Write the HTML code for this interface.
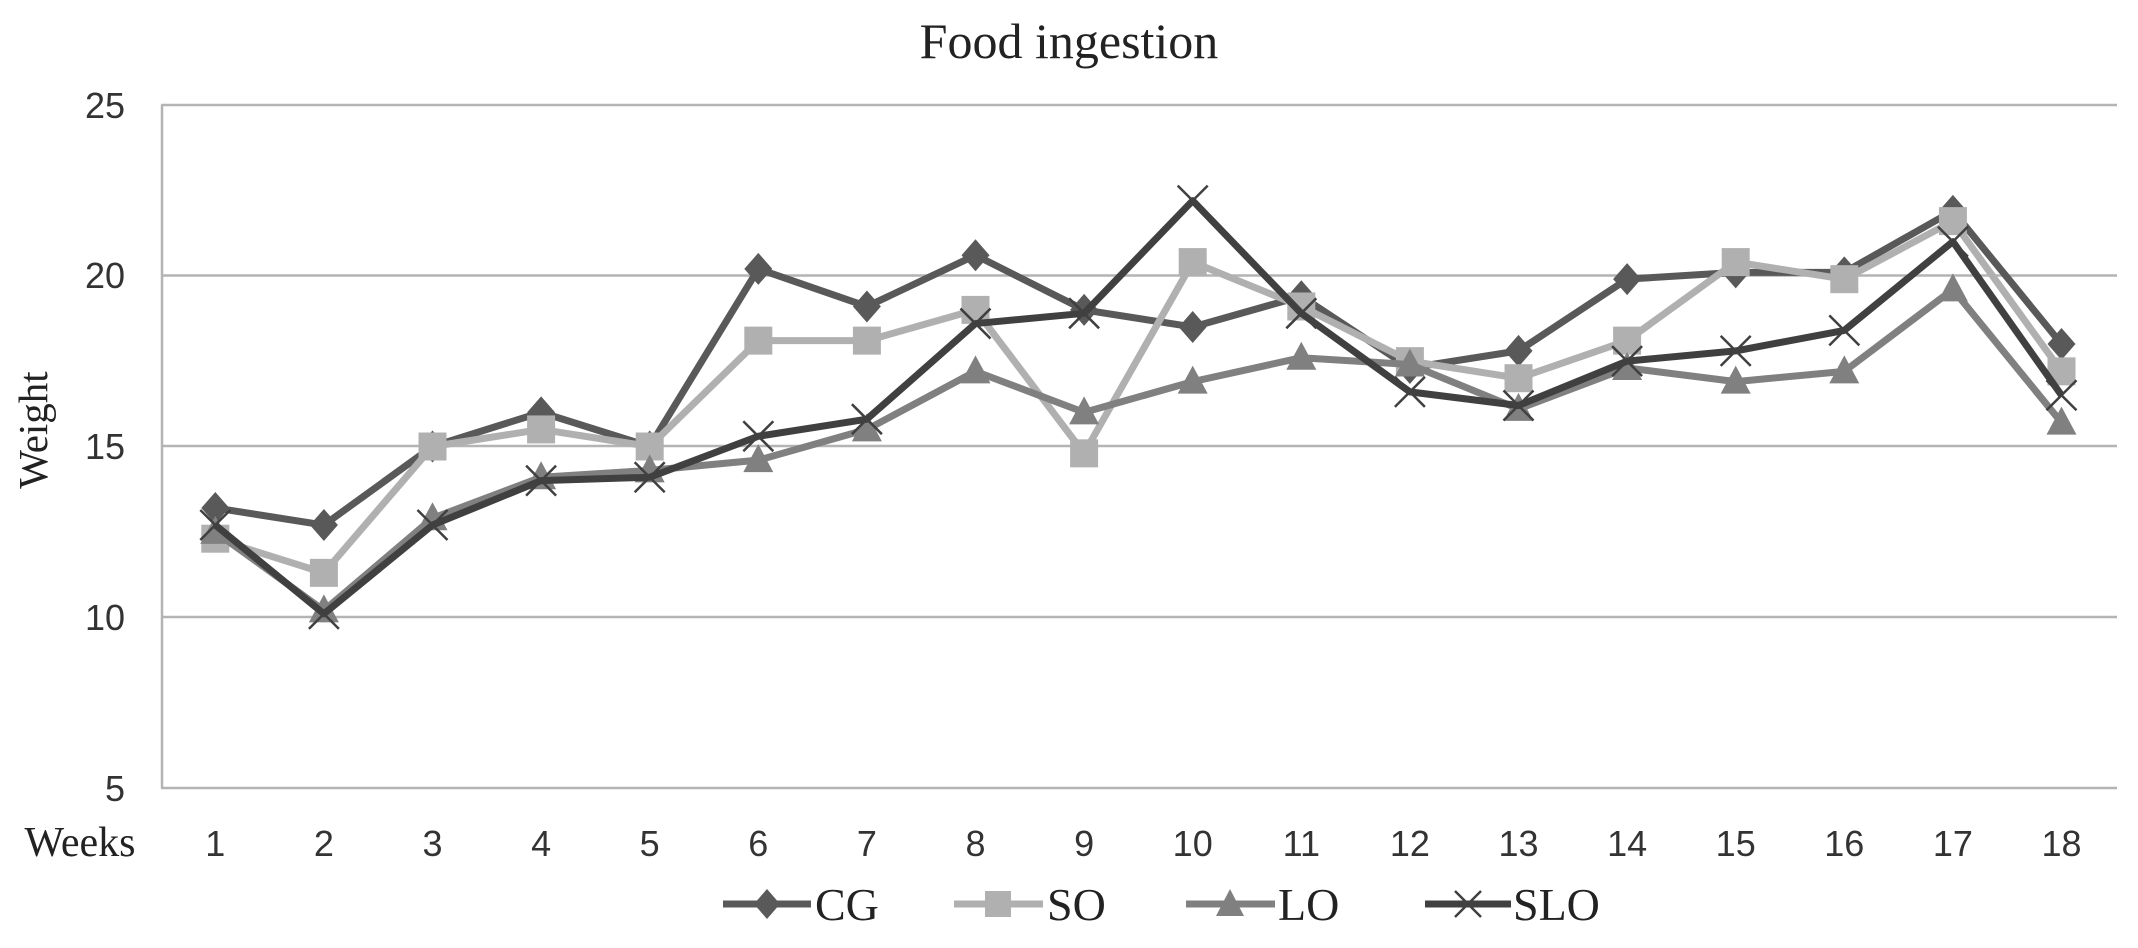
<!DOCTYPE html>
<html><head><meta charset="utf-8"><style>html,body{margin:0;padding:0;background:#fff}svg{display:block}</style></head>
<body>
<svg width="2138" height="948" viewBox="0 0 2138 948" xmlns="http://www.w3.org/2000/svg">
<rect width="2138" height="948" fill="#fff"/>
<text x="1069" y="58" font-family="Liberation Serif, serif" font-size="50" text-anchor="middle" fill="#222">Food ingestion</text>
<g stroke="#b4b4b4" stroke-width="2.5">
<line x1="161" y1="105" x2="2117" y2="105"/>
<line x1="161" y1="275.5" x2="2117" y2="275.5"/>
<line x1="161" y1="446" x2="2117" y2="446"/>
<line x1="161" y1="617" x2="2117" y2="617"/>
<line x1="161" y1="788" x2="2117" y2="788"/>
<line x1="162" y1="105" x2="162" y2="788"/>
</g>
<g font-family="Liberation Sans, sans-serif" font-size="36" fill="#333" text-anchor="end">
<text x="125" y="118">25</text><text x="125" y="288">20</text><text x="125" y="459">15</text><text x="125" y="630">10</text><text x="125" y="801">5</text>
</g>
<text transform="translate(47,430) rotate(-90)" font-family="Liberation Serif, serif" font-size="41" text-anchor="middle" fill="#222">Weight</text>
<text x="80" y="856" font-family="Liberation Serif, serif" font-size="42" text-anchor="middle" fill="#222">Weeks</text>
<g id="xl" font-family="Liberation Sans, sans-serif" font-size="36" fill="#333" text-anchor="middle"></g>
<g id="series"></g>
<g font-family="Liberation Serif, serif" font-size="46" fill="#222">
<line x1="723" y1="904" x2="811" y2="904" stroke="#595959" stroke-width="7"/><path d="M767 889 L780 904 L767 919 L754 904Z" fill="#595959"/><text x="815" y="920">CG</text>
<line x1="954" y1="904" x2="1043" y2="904" stroke="#b0b0b0" stroke-width="7"/><rect x="985" y="891" width="26" height="26" fill="#b0b0b0"/><text x="1047" y="920">SO</text>
<line x1="1186" y1="904" x2="1275" y2="904" stroke="#808080" stroke-width="7"/><path d="M1230 889 L1244 916 L1216 916Z" fill="#808080"/><text x="1278" y="920">LO</text>
<line x1="1425" y1="904" x2="1511" y2="904" stroke="#404040" stroke-width="7"/><path d="M1455 891 L1481 917 M1481 891 L1455 917" stroke="#404040" stroke-width="2.5"/><text x="1513" y="920">SLO</text>
</g>
</svg>
<script>
const NS="http://www.w3.org/2000/svg";
const X=i=>161+108.6*(i+0.5), Y=v=>788-(v-5)*34.15;
const xl=document.getElementById('xl');
for(let i=0;i<18;i++){const t=document.createElementNS(NS,'text');t.setAttribute('x',X(i));t.setAttribute('y',856);t.textContent=i+1;xl.appendChild(t);}
const data=[
{c:"#595959",m:"d",v:[13.2,12.7,15,16,15,20.2,19.1,20.6,19,18.5,19.4,17.3,17.8,19.9,20.1,20.1,21.9,18]},
{c:"#b0b0b0",m:"s",v:[12.3,11.3,15,15.5,15,18.1,18.1,19,14.8,20.4,19.1,17.5,17,18.1,20.4,19.9,21.6,17.2]},
{c:"#808080",m:"t",v:[12.5,10.2,12.9,14.1,14.3,14.6,15.5,17.2,16,16.9,17.6,17.4,16.1,17.3,16.9,17.2,19.6,15.7]},
{c:"#404040",m:"x",v:[12.7,10.1,12.7,14,14.1,15.3,15.8,18.6,18.9,22.2,18.9,16.6,16.2,17.5,17.8,18.4,21,16.5]}];
const g=document.getElementById('series');
let h='';
for(const s of data){
 h+=`<polyline fill="none" stroke="${s.c}" stroke-width="7" stroke-linejoin="round" points="${s.v.map((v,i)=>X(i)+','+Y(v)).join(' ')}"/>`;
 s.v.forEach((v,i)=>{const x=X(i),y=Y(v);
  if(s.m=='d')h+=`<path d="M${x} ${y-16} L${x+14} ${y} L${x} ${y+16} L${x-14} ${y}Z" fill="${s.c}"/>`;
  if(s.m=='s')h+=`<rect x="${x-14}" y="${y-14}" width="28" height="28" fill="${s.c}"/>`;
  if(s.m=='t')h+=`<path d="M${x} ${y-16} L${x+15} ${y+12} L${x-15} ${y+12}Z" fill="${s.c}"/>`;
  if(s.m=='x')h+=`<path d="M${x-15} ${y-15} L${x+15} ${y+15} M${x+15} ${y-15} L${x-15} ${y+15}" stroke="${s.c}" stroke-width="2.5"/>`;
 });
}
g.innerHTML=h;
</script>
</body></html>
